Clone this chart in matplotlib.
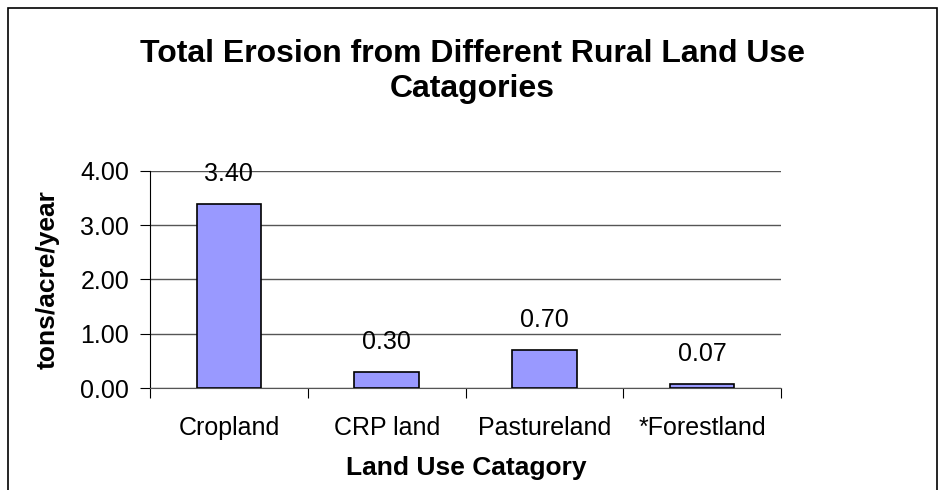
import matplotlib
matplotlib.use("Agg")
import matplotlib.pyplot as plt
from matplotlib.patches import Rectangle

categories = ["Cropland", "CRP land", "Pastureland", "*Forestland"]
values = [3.40, 0.30, 0.70, 0.07]
yticks = [0.0, 1.0, 2.0, 3.0, 4.0]
title_lines = ["Total Erosion from Different Rural Land Use", "Catagories"]

plt.rcParams['font.family'] = ['Liberation Sans', 'DejaVu Sans']

W, H = 938, 490
fig = plt.figure(figsize=(W / 100, H / 100), dpi=100)
fig.patch.set_facecolor("white")

# outer chart frame (bottom edge is outside the image)
fig.add_artist(Rectangle((8 / W, -0.05), (937 - 8) / W, 1.05 - 8 / H,
                         transform=fig.transFigure, fill=False,
                         edgecolor="black", linewidth=1.2))

left, right = 150 / W, 781 / W
bottom, top = 1 - 388 / H, 1 - 171 / H
ax = fig.add_axes([left, bottom, right - left, top - bottom])

x = list(range(len(categories)))
ax.bar(x, values, width=0.41, color="#9999FF", edgecolor="black", linewidth=1.2, zorder=3)
ax.set_xlim(-0.5, len(categories) - 0.5)
ax.set_ylim(0, 4)

for xi, v in zip(x, values):
    ax.annotate(f"{v:.2f}", (xi, v), xytext=(0, 30), textcoords="offset pixels",
                ha="center", va="center", fontsize=18, color="black")

ax.set_yticks(yticks)
ax.set_yticklabels([f"{t:.2f}" for t in yticks], fontsize=18)
ax.yaxis.grid(True, color="#555555", linewidth=1.0, zorder=0)
ax.set_axisbelow(True)

ax.set_xticks([i - 0.5 for i in range(len(categories) + 1)])
ax.set_xticklabels([])
ax.set_xticks(x, minor=True)
ax.set_xticklabels(categories, minor=True, fontsize=18)
ax.tick_params(axis="x", which="minor", length=0, pad=20)
ax.tick_params(axis="x", which="major", length=7, direction="out", color="black")
ax.tick_params(axis="y", length=7, direction="out", pad=8)

for s in ["top", "right"]:
    ax.spines[s].set_visible(False)
ax.spines["left"].set_color("black")
ax.spines["bottom"].set_color("#555555")

fig.text(48 / W, 1 - 280 / H, "tons/acre/year", rotation=90, ha="center", va="center",
         fontsize=19, fontweight="bold")
fig.text(466 / W, 1 - 468 / H, "Land Use Catagory", ha="center", va="center",
         fontsize=19, fontweight="bold")
for line, base_y in zip(title_lines, [62, 97]):
    fig.text(472 / W, 1 - base_y / H, line, ha="center", va="baseline",
             fontsize=23, fontweight="bold")

fig.savefig("out.png", dpi=100)
